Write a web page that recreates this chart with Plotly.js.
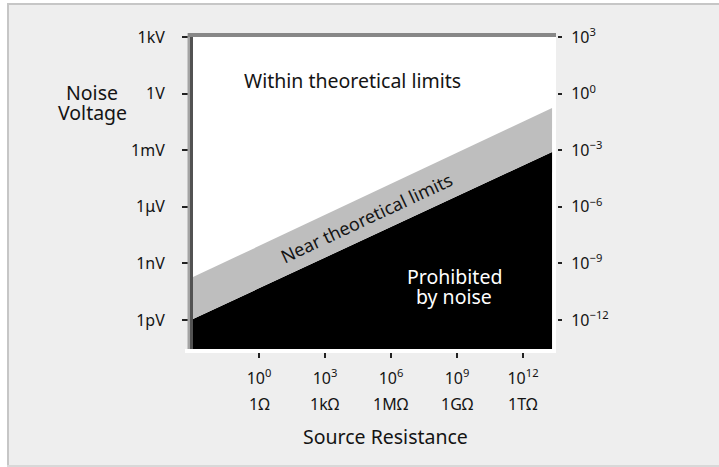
<!DOCTYPE html>
<html><head><meta charset="utf-8">
<script src="https://cdn.plot.ly/plotly-3.0.1.min.js"></script>
<style>html,body{margin:0;padding:0;background:#fff;}#chart{width:719px;height:467px;}</style>
</head><body><div id="chart"></div>
<script>
// ---- data (log10 units) ----
const bandX = [-3, 13.32];                 // source resistance, log10(ohm)
const noiseFloor = [-11.94, -3.09];        // top of "Prohibited by noise" region, log10(V)
const nearLimit = [-9.72, -0.76];          // top of "Near theoretical limits" band, log10(V)
const chartFloor = [-13.53, -13.53];       // bottom of the shaded regions
const xTickVals = [0, 3, 6, 9, 12];
const xPowLabels = ["10<sup>0</sup>", "10<sup>3</sup>", "10<sup>6</sup>", "10<sup>9</sup>", "10<sup>12</sup>"];
const ohmLabels = ["1Ω", "1kΩ", "1MΩ", "1GΩ", "1TΩ"];
const yTickVals = [3, 0, -3, -6, -9, -12];
const voltLabels = ["1kV", "1V", "1mV", "1μV", "1nV", "1pV"];
const yPowLabels = ["10<sup>3</sup>", "10<sup>0</sup>", "10<sup>−3</sup>", "10<sup>−6</sup>", "10<sup>−9</sup>", "10<sup>−12</sup>"];
const regionLabels = ["Within theoretical limits", "Near theoretical limits", "Prohibited", "by noise"];
const axisTitleX = "Source Resistance";
const axisTitleY = ["Noise", "Voltage"];

// ---- layout helpers (pixel -> paper) ----
const L = 193, R = 556, T = 37, B = 352, W = 719, H = 467;
const px = x => (x - L) / (R - L);
const py = y => (B - y) / (B - T);
const FONT = "Noto Sans, Open Sans, sans-serif";
const TXT = "#141414";

const traces = [
  {x: bandX, y: chartFloor, mode: "lines", line: {width: 0, color: "rgba(0,0,0,0)"}, hoverinfo: "skip"},
  {x: bandX, y: noiseFloor, mode: "lines", fill: "tonexty", fillcolor: "#000000", line: {width: 0, color: "rgba(0,0,0,0)"}, hoverinfo: "skip"},
  {x: bandX, y: nearLimit, mode: "lines", fill: "tonexty", fillcolor: "#bebebe", line: {width: 0, color: "rgba(0,0,0,0)"}, hoverinfo: "skip"},
  {x: bandX, y: nearLimit, mode: "none", yaxis: "y2", hoverinfo: "skip"}
];

const yRange = [-13.69, 3.0];
const tickFont = {family: FONT, size: 16, color: TXT};
const BIG = 19.5;

const ann = (text, x, y, opts) => Object.assign({
  text: text, xref: "paper", yref: "paper", x: px(x), y: py(y),
  xanchor: "center", yanchor: "middle", showarrow: false,
  font: {family: FONT, size: BIG, color: TXT}
}, opts || {});

const annotations = [
  ann(axisTitleY[0], 92, 92),
  ann(axisTitleY[1], 92, 112),
  ann(axisTitleX, 385, 436),
  ann(regionLabels[0], 352.5, 81),
  ann(regionLabels[1], 366, 218, {textangle: -25, font: {family: FONT, size: 18, color: TXT}}),
  ann(regionLabels[2], 454, 276, {font: {family: FONT, size: BIG, color: "#ffffff"}}),
  ann(regionLabels[3], 454, 296, {font: {family: FONT, size: BIG, color: "#ffffff"}})
];
xTickVals.forEach((v, i) => {
  annotations.push({text: ohmLabels[i], xref: "x", yref: "paper", x: v, y: 0, yshift: -(404 - B),
    xanchor: "center", yanchor: "middle", showarrow: false, font: tickFont});
});

const rect = (x0, y0, x1, y1, fill, layer) => ({
  type: "rect", xref: "paper", yref: "paper", x0: px(x0), x1: px(x1), y0: py(y1), y1: py(y0),
  fillcolor: fill, line: {width: 0}, layer: layer || "above"
});

const shapes = [
  rect(0, 0, 8, H, "#ffffff", "below"),
  rect(0, 0, W, 4, "#ffffff", "below"),
  rect(7, 3, 9, H, "#c6c6c6", "below"),
  rect(7, 3, W, 5, "#c6c6c6", "below"),
  rect(7, 465, W, 467, "#d8d8d8", "below"),
  rect(185, 349, R, 353, "#ffffff"),
  rect(187.5, 33, 190, 349, "#a3a3a3"),
  rect(190, 33, 193, 349, "#525252"),
  rect(188, 33, R, 37, "#878787")
];

const layout = {
  width: W, height: H,
  margin: {l: L, r: W - R, t: T, b: H - B, pad: 0},
  paper_bgcolor: "#eeeeee", plot_bgcolor: "#ffffff",
  showlegend: false,
  xaxis: {range: [-3, 13.5], tickvals: xTickVals, ticktext: xPowLabels, ticks: "outside",
    ticklen: 5, tickwidth: 2, tickcolor: "#222", showgrid: false, zeroline: false, showline: false,
    tickfont: tickFont, ticklabelstandoff: 7, fixedrange: true},
  yaxis: {range: yRange, tickvals: yTickVals, ticktext: voltLabels, ticks: "outside",
    ticklen: 10, tickwidth: 2, tickcolor: "#222", showgrid: false, zeroline: false, showline: false,
    tickfont: tickFont, ticklabelstandoff: 14, fixedrange: true},
  yaxis2: {range: yRange, overlaying: "y", side: "right", tickvals: yTickVals, ticktext: yPowLabels,
    ticks: "outside", ticklen: 4, tickwidth: 2, tickcolor: "#222", showgrid: false, zeroline: false,
    showline: true, linecolor: "#eeeeee", linewidth: 2, tickfont: tickFont, ticklabelstandoff: 6, fixedrange: true},
  annotations: annotations,
  shapes: shapes
};

Plotly.newPlot("chart", traces, layout, {displayModeBar: false, staticPlot: true});
</script>
</body></html>
